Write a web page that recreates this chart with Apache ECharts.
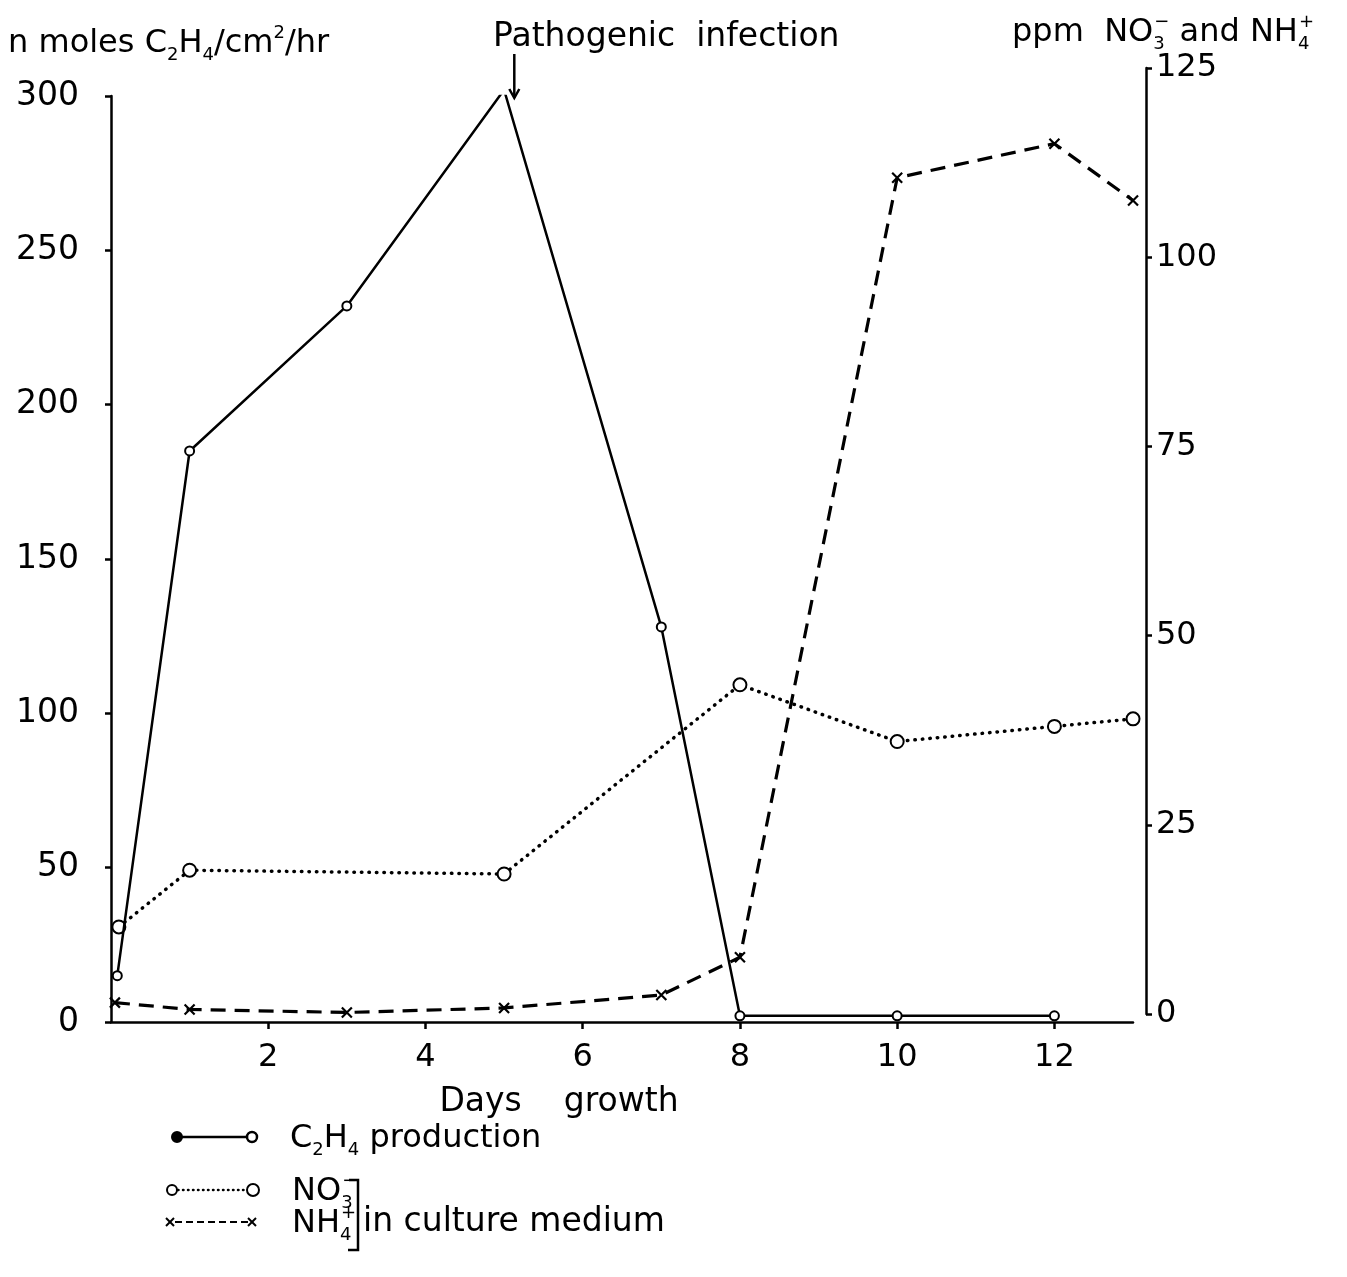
<!DOCTYPE html>
<html>
<head>
<meta charset="utf-8">
<title>Ethylene production and nitrogen in culture medium</title>
<script src="https://cdn.jsdelivr.net/npm/echarts@6/dist/echarts.min.js"></script>
<style>
  html, body { margin: 0; padding: 0; background: #fff; }
  #chart { width: 1347px; height: 1277px; }
</style>
</head>
<body>
<div id="chart"></div>
<script>
// C2H4 production (n moles / cm2 / hr), left axis
const c2h4Days = [0.08, 1, 3, 5, 7, 8, 10, 12];
const c2h4Values = [15, 185, 232, 302, 128, 2, 2, 2];

// NO3- in culture medium (ppm), right axis
const no3Days = [0.1, 1, 5, 8, 10, 12, 13];
const no3Values = [11.5, 19, 18.5, 43.5, 36, 38, 39];

// NH4+ in culture medium (ppm), right axis
const nh4Days = [0.05, 1, 3, 5, 7, 8, 10, 12, 13];
const nh4Values = [1.5, 0.6, 0.2, 0.8, 2.5, 7.5, 110.5, 115, 107.5];

// Tick values
const dayTicks = [2, 4, 6, 8, 10, 12];

// Day of the pathogenic infection
const infectionDay = 5.13;

const FONT = 'DejaVu Sans';
const INK = '#000';

const zip = (xs, ys) => xs.map((x, i) => [x, ys[i]]);

const chart = echarts.init(document.getElementById('chart'), null, { renderer: 'canvas' });

const axisLineStyle = { color: INK, width: 2.5 };
const labelStyle = { color: INK, fontFamily: FONT, fontSize: 32 };

const option = {
  animation: false,
  backgroundColor: '#fff',
  grid: [
    { left: 111, right: 214, top: 96, bottom: 255 },
    { left: 111, right: 201, top: 68, bottom: 263 }
  ],
  xAxis: [
    {
      type: 'value', gridIndex: 0, min: 0, max: 13,
      axisLine: { show: true, onZero: false, lineStyle: axisLineStyle },
      axisTick: { show: true, length: 7, lineStyle: { color: INK, width: 2.5 }, customValues: dayTicks },
      axisLabel: Object.assign({ margin: 20, customValues: dayTicks }, labelStyle),
      splitLine: { show: false },
      name: 'Days    growth',
      nameLocation: 'middle',
      nameGap: 64,
      nameTextStyle: Object.assign({ padding: [0, 126, 0, 0] }, labelStyle, { fontSize: 33 })
    },
    {
      type: 'value', gridIndex: 1, min: 0, max: 13.165, show: false
    }
  ],
  yAxis: [
    {
      type: 'value', gridIndex: 0, min: 0, max: 300, interval: 50,
      axisLine: { show: true, onZero: false, lineStyle: axisLineStyle },
      axisTick: { show: true, length: 6, lineStyle: { color: INK, width: 2.5 } },
      axisLabel: Object.assign({ margin: 32 }, labelStyle, { fontSize: 33 }),
      splitLine: { show: false }
    },
    {
      type: 'value', gridIndex: 1, position: 'right', min: 0, max: 125, interval: 25,
      axisLine: { show: true, onZero: false, lineStyle: axisLineStyle },
      axisTick: { show: true, length: 6, lineStyle: { color: INK, width: 2.5 } },
      axisLabel: Object.assign({ margin: 10 }, labelStyle),
      splitLine: { show: false }
    }
  ],
  series: [
    {
      name: 'C2H4 production',
      type: 'line',
      xAxisIndex: 0, yAxisIndex: 0,
      data: zip(c2h4Days, c2h4Values),
      symbol: 'emptyCircle', symbolSize: 9,
      lineStyle: { color: INK, width: 2.5 },
      itemStyle: { color: INK, borderColor: INK, borderWidth: 2.5 },
      z: 4
    },
    {
      name: 'NO3-',
      type: 'line',
      xAxisIndex: 1, yAxisIndex: 1,
      data: zip(no3Days, no3Values),
      symbol: 'emptyCircle', symbolSize: 13,
      lineStyle: { color: INK, width: 3.5, type: [0.5, 7], cap: 'round' },
      itemStyle: { color: INK, borderColor: INK, borderWidth: 2 },
      z: 3
    },
    {
      name: 'NH4+',
      type: 'line',
      xAxisIndex: 1, yAxisIndex: 1,
      data: zip(nh4Days, nh4Values),
      symbol: 'path://M0 0L10 10M10 0L0 10', symbolSize: 10,
      lineStyle: { color: INK, width: 3.2, type: [15, 9] },
      itemStyle: { color: 'none', borderColor: INK, borderWidth: 2.2 },
      z: 3
    }
  ]
};

chart.setOption(option);

// Text with chemical sub- and superscripts; "subk" keeps no width so the
// charge sign that follows sits stacked above the subscript
const chemRich = {
  sub: { fontSize: 18, fontFamily: FONT, fill: INK, verticalAlign: 'bottom', lineHeight: 20 },
  subk: { fontSize: 18, fontFamily: FONT, fill: INK, verticalAlign: 'bottom', lineHeight: 20, width: 1 },
  sup: { fontSize: 18, fontFamily: FONT, fill: INK, verticalAlign: 'top', lineHeight: 20 }
};
const txt = (x, y, text, size) => ({
  type: 'text', x: x, y: y, silent: true,
  style: {
    text: text, fill: INK, fontFamily: FONT, fontSize: size || 32, lineHeight: 40,
    verticalAlign: 'middle', align: 'left', rich: chemRich
  }
});

const peak = chart.convertToPixel({ xAxisIndex: 0, yAxisIndex: 0 }, [infectionDay, 300]);

const graphics = [
  txt(8, 44, 'n moles C{sub|2}H{sub|4}/cm{sup|2}/hr'),
  txt(493, 37, 'Pathogenic  infection', 33),
  txt(1012, 33, 'ppm  NO{subk|3}{sup|−} and NH{subk|4}{sup|+}'),
  // arrow marking the infection
  { type: 'line', silent: true, shape: { x1: peak[0], y1: peak[1] - 42, x2: peak[0], y2: peak[1] + 2 }, style: { stroke: INK, lineWidth: 2.5 } },
  { type: 'polyline', silent: true, shape: { points: [[peak[0] - 5, peak[1] - 7], [peak[0], peak[1] + 2], [peak[0] + 5, peak[1] - 7]] }, style: { stroke: INK, lineWidth: 2.5, fill: null } },

  // key: C2H4
  { type: 'line', silent: true, shape: { x1: 177, y1: 1137, x2: 252, y2: 1137 }, style: { stroke: INK, lineWidth: 2.5 } },
  { type: 'circle', silent: true, shape: { cx: 177, cy: 1137, r: 5 }, style: { fill: INK, stroke: INK, lineWidth: 2 } },
  { type: 'circle', silent: true, shape: { cx: 252, cy: 1137, r: 5 }, style: { fill: '#fff', stroke: INK, lineWidth: 2.5 } },
  txt(290, 1139, 'C{sub|2}H{sub|4} production'),

  // key: NO3-
  { type: 'line', silent: true, shape: { x1: 178, y1: 1190, x2: 247, y2: 1190 }, style: { stroke: INK, lineWidth: 2.5, lineDash: [0.5, 4.5], lineCap: 'round' } },
  { type: 'circle', silent: true, shape: { cx: 172, cy: 1190, r: 5 }, style: { fill: '#fff', stroke: INK, lineWidth: 2 } },
  { type: 'circle', silent: true, shape: { cx: 253, cy: 1190, r: 6 }, style: { fill: '#fff', stroke: INK, lineWidth: 2 } },
  txt(292, 1192, 'NO{subk|3}{sup|−}'),

  // key: NH4+
  { type: 'line', silent: true, shape: { x1: 175, y1: 1222, x2: 248, y2: 1222 }, style: { stroke: INK, lineWidth: 2, lineDash: [7, 4] } },
  { type: 'polyline', silent: true, shape: { points: [[166, 1218], [174, 1226]] }, style: { stroke: INK, lineWidth: 2 } },
  { type: 'polyline', silent: true, shape: { points: [[174, 1218], [166, 1226]] }, style: { stroke: INK, lineWidth: 2 } },
  { type: 'polyline', silent: true, shape: { points: [[248, 1218], [256, 1226]] }, style: { stroke: INK, lineWidth: 2 } },
  { type: 'polyline', silent: true, shape: { points: [[256, 1218], [248, 1226]] }, style: { stroke: INK, lineWidth: 2 } },
  txt(292, 1224, 'NH{subk|4}{sup|+}'),

  // bracket grouping the two ions
  { type: 'polyline', silent: true, shape: { points: [[349, 1180], [358, 1180], [358, 1250], [348, 1250]] }, style: { stroke: INK, lineWidth: 2.5, fill: null } },
  txt(363, 1222, 'in culture medium', 33)
];

chart.setOption({ graphic: graphics });
</script>
</body>
</html>
